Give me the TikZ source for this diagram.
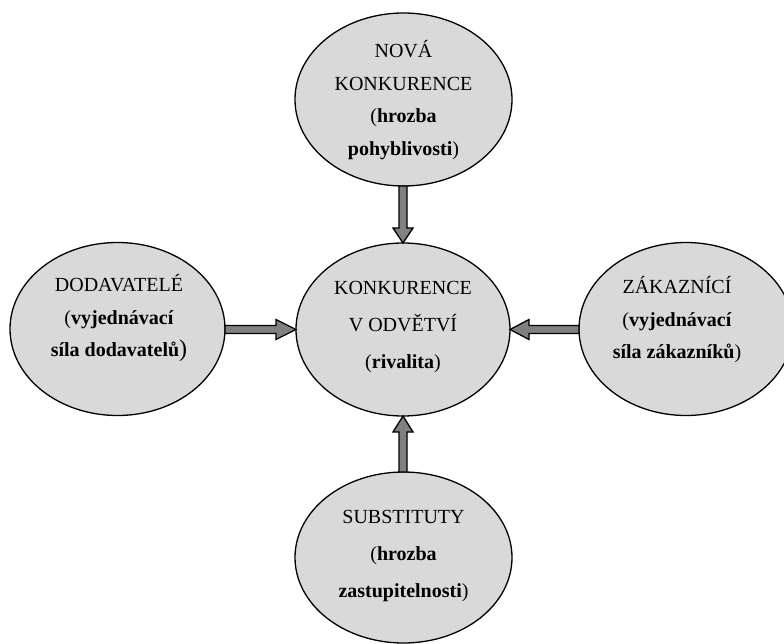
\documentclass[tikz,border=0pt]{standalone}
\usepackage{fontspec}
\setmainfont{Liberation Serif}
\usetikzlibrary{shapes.geometric,calc}
\definecolor{ellfill}{HTML}{D9D9D9}
\definecolor{arrfill}{HTML}{808080}
\tikzset{
  ell/.style={ellipse, draw=black, line width=1.3pt, fill=ellfill, inner sep=0pt, outer sep=0pt},
  txt/.style={align=center, inner sep=0pt, text=black},
  tight/.style={font=\fontsize{20}{32.5}\selectfont},
  loose/.style={font=\fontsize{20}{37}\selectfont},
  blk/.style={draw=black, line width=1.3pt, fill=arrfill, line join=miter}
}
\begin{document}
\begin{tikzpicture}[x=1pt,y=-1pt]
\useasboundingbox (0,0) rectangle (784,644);
% ellipses
\node[ell, minimum width=217, minimum height=173] (top) at (403.5,99.5) {};
\node[ell, minimum width=214, minimum height=173] (c) at (403,329.5) {};
\node[ell, minimum width=215, minimum height=173] (left) at (117.5,329) {};
\node[ell, minimum width=214, minimum height=173] (right) at (686,329) {};
\node[ell, minimum width=217, minimum height=171] (bot) at (403.5,557.5) {};
% texts
\node[txt, tight] (topT) at (403.5,100) {NOVÁ\\KONKURENCE\\(\textbf{hrozba}\\\textbf{pohyblivosti})};
\node[txt, loose] (cT) at (403,327) {KONKURENCE\\V ODVĚTVÍ\\(\textbf{rivalita})};
\node[txt, tight] (leftT) at (119,318) {DODAVATELÉ\\(\textbf{vyjednávací}\\\textbf{síla dodavatelů}{\fontsize{24}{32.5}\selectfont)}};
\node[txt, tight] (rightT) at (677,320) {ZÁKAZNÍCÍ\\(\textbf{vyjednávací}\\\textbf{síla zákazníků})};
\node[txt, loose] (botT) at (403.5,556) {SUBSTITUTY\\(\textbf{hrozba}\\\textbf{zastupitelnosti})};
% block arrows
\coordinate (t1) at (c.north);
\draw[blk] ($(top.south -| t1)+(-4,0)$) -- ($(t1)+(-4,-15)$) -- ($(t1)+(-10,-15)$) -- (t1)
  -- ($(t1)+(10,-15)$) -- ($(t1)+(4,-15)$) -- ($(top.south -| t1)+(4,0)$) -- cycle;
\coordinate (t2) at (c.south);
\draw[blk] ($(bot.north -| t2)+(-4,0)$) -- ($(t2)+(-4,16)$) -- ($(t2)+(-10,16)$) -- (t2)
  -- ($(t2)+(10,16)$) -- ($(t2)+(4,16)$) -- ($(bot.north -| t2)+(4,0)$) -- cycle;
\coordinate (t3) at (c.west);
\draw[blk] ($(left.east |- t3)+(0,-4)$) -- ($(t3)+(-20,-4)$) -- ($(t3)+(-20,-10)$) -- (t3)
  -- ($(t3)+(-20,10)$) -- ($(t3)+(-20,4)$) -- ($(left.east |- t3)+(0,4)$) -- cycle;
\coordinate (t4) at (c.east);
\draw[blk] ($(right.west |- t4)+(0,-4)$) -- ($(t4)+(19,-4)$) -- ($(t4)+(19,-10)$) -- (t4)
  -- ($(t4)+(19,10)$) -- ($(t4)+(19,4)$) -- ($(right.west |- t4)+(0,4)$) -- cycle;
\end{tikzpicture}
\end{document}
